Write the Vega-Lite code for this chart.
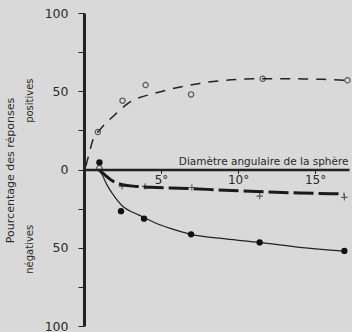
{
  "$schema": "https://vega.github.io/schema/vega-lite/v6.json",
  "width": 265,
  "height": 313,
  "autosize": {"type": "none"},
  "padding": {"left": 84, "top": 13, "right": 3, "bottom": 6},
  "background": "#d9d9d9",
  "config": {"view": {"stroke": null}, "font": "DejaVu Sans"},
  "datasets": {
    "curves": [
      {"series": "pos", "x": 0.12, "y": 2},
      {"series": "pos", "x": 0.3, "y": 9},
      {"series": "pos", "x": 0.58, "y": 19},
      {"series": "pos", "x": 1.04, "y": 25.5},
      {"series": "pos", "x": 2.0, "y": 35},
      {"series": "pos", "x": 2.9, "y": 42.5},
      {"series": "pos", "x": 4.7, "y": 49},
      {"series": "pos", "x": 6.4, "y": 53},
      {"series": "pos", "x": 7.5, "y": 55},
      {"series": "pos", "x": 8.8, "y": 56.7},
      {"series": "pos", "x": 10, "y": 57.6},
      {"series": "pos", "x": 11.6, "y": 58},
      {"series": "pos", "x": 13, "y": 58},
      {"series": "pos", "x": 14.2, "y": 57.9},
      {"series": "pos", "x": 15.5, "y": 57.6},
      {"series": "pos", "x": 17.1, "y": 57},
      {"series": "plus", "x": 0.95, "y": 0},
      {"series": "plus", "x": 1.3, "y": -3},
      {"series": "plus", "x": 1.9, "y": -7.6},
      {"series": "plus", "x": 2.5, "y": -9.7},
      {"series": "plus", "x": 3.4, "y": -10.8},
      {"series": "plus", "x": 4.7, "y": -11.5},
      {"series": "plus", "x": 6.2, "y": -12},
      {"series": "plus", "x": 8, "y": -12.7},
      {"series": "plus", "x": 10, "y": -13.6},
      {"series": "plus", "x": 12, "y": -14.4},
      {"series": "plus", "x": 14, "y": -15},
      {"series": "plus", "x": 16.9, "y": -15.6},
      {"series": "neg", "x": 0.95, "y": 0},
      {"series": "neg", "x": 1.17, "y": -3.2},
      {"series": "neg", "x": 1.5, "y": -10},
      {"series": "neg", "x": 1.88, "y": -15.9},
      {"series": "neg", "x": 2.53, "y": -23.6},
      {"series": "neg", "x": 3.2, "y": -27.5},
      {"series": "neg", "x": 3.77, "y": -30},
      {"series": "neg", "x": 4.6, "y": -34},
      {"series": "neg", "x": 5.6, "y": -37.6},
      {"series": "neg", "x": 6.95, "y": -41.4},
      {"series": "neg", "x": 9.2, "y": -44.3},
      {"series": "neg", "x": 11.4, "y": -46.6},
      {"series": "neg", "x": 14, "y": -49.7},
      {"series": "neg", "x": 16.9, "y": -52.2}
    ],
    "points": [
      {"series": "pos", "x": 1.0, "y": 1},
      {"series": "pos", "x": 0.9, "y": 24},
      {"series": "pos", "x": 2.5, "y": 44},
      {"series": "pos", "x": 4.0, "y": 54},
      {"series": "pos", "x": 6.95, "y": 48},
      {"series": "pos", "x": 11.6, "y": 58},
      {"series": "pos", "x": 17.1, "y": 57},
      {"series": "plus", "x": 2.47, "y": -10.8},
      {"series": "plus", "x": 3.96, "y": -10.8},
      {"series": "plus", "x": 7.0, "y": -11.5},
      {"series": "plus", "x": 11.4, "y": -17},
      {"series": "plus", "x": 16.9, "y": -17.8},
      {"series": "neg", "x": 1.0, "y": 4.5},
      {"series": "neg", "x": 2.4, "y": -26.6},
      {"series": "neg", "x": 3.9, "y": -31.4},
      {"series": "neg", "x": 6.95, "y": -41.4},
      {"series": "neg", "x": 11.4, "y": -46.6},
      {"series": "neg", "x": 16.9, "y": -52}
    ],
    "labels": [
      {"label": "positives", "x": -3.5, "y": 44},
      {"label": "négatives", "x": -3.5, "y": -51}
    ]
  },
  "encoding": {
    "x": {
      "field": "x",
      "type": "quantitative",
      "scale": {"domain": [0, 17.2], "nice": false, "zero": false},
      "axis": {
        "title": "Diamètre angulaire de la sphère",
        "offset": -156.5,
        "values": [5, 10, 15],
        "labelExpr": "datum.value + '°'",
        "grid": false,
        "domainColor": "#222",
        "domainWidth": 2.5,
        "tickColor": "#222",
        "tickSize": 4,
        "labelColor": "#2a2a2a",
        "labelFontSize": 12,
        "labelPadding": 1,
        "titleColor": "#2a2a2a",
        "titleFontSize": 10.5,
        "titleFontWeight": "normal",
        "titleAnchor": "end",
        "titleAlign": "right",
        "titleX": 264,
        "titleY": -5,
        "titleBaseline": "alphabetic"
      }
    },
    "y": {
      "field": "y",
      "type": "quantitative",
      "scale": {"domain": [-100, 100], "nice": false, "zero": false},
      "axis": {
        "title": "Pourcentage des réponses",
        "values": [-100, -75, -50, -25, 0, 25, 50, 75, 100],
        "labelExpr": "datum.value % 50 == 0 ? '' + abs(datum.value) : ''",
        "grid": false,
        "domainColor": "#222",
        "domainWidth": 3,
        "tickColor": "#222",
        "tickSize": 6,
        "labelColor": "#2a2a2a",
        "labelFontSize": 12.5,
        "labelPadding": 10,
        "titleColor": "#2a2a2a",
        "titleFontSize": 11,
        "titleFontWeight": "normal",
        "titleX": -69,
        "titleY": 157
      }
    }
  },
  "layer": [
    {
      "data": {"name": "curves"},
      "transform": [{"filter": "datum.series == 'pos'"}],
      "mark": {"type": "line", "interpolate": "monotone", "color": "#222", "strokeWidth": 1.5, "strokeDash": [10, 8]}
    },
    {
      "data": {"name": "curves"},
      "transform": [{"filter": "datum.series == 'plus'"}],
      "mark": {"type": "line", "interpolate": "monotone", "color": "#1a1a1a", "strokeWidth": 3, "strokeDash": [20, 5]}
    },
    {
      "data": {"name": "curves"},
      "transform": [{"filter": "datum.series == 'neg'"}],
      "mark": {"type": "line", "interpolate": "monotone", "color": "#222", "strokeWidth": 1.2}
    },
    {
      "data": {"name": "points"},
      "transform": [{"filter": "datum.series == 'pos'"}],
      "mark": {"type": "point", "shape": "circle", "filled": false, "color": "#222", "strokeWidth": 1.2, "size": 28}
    },
    {
      "data": {"name": "points"},
      "transform": [{"filter": "datum.series == 'plus'"}],
      "mark": {"type": "point", "shape": "M-1,0H1M0,-1V1", "filled": false, "color": "#222", "strokeWidth": 1.1, "size": 40}
    },
    {
      "data": {"name": "points"},
      "transform": [{"filter": "datum.series == 'neg'"}],
      "mark": {"type": "point", "shape": "circle", "filled": true, "color": "#111", "opacity": 1, "size": 40}
    },
    {
      "data": {"name": "labels"},
      "mark": {"type": "text", "angle": 270, "fontSize": 10, "color": "#2a2a2a", "baseline": "middle", "align": "center"},
      "encoding": {"text": {"field": "label"}}
    }
  ]
}
